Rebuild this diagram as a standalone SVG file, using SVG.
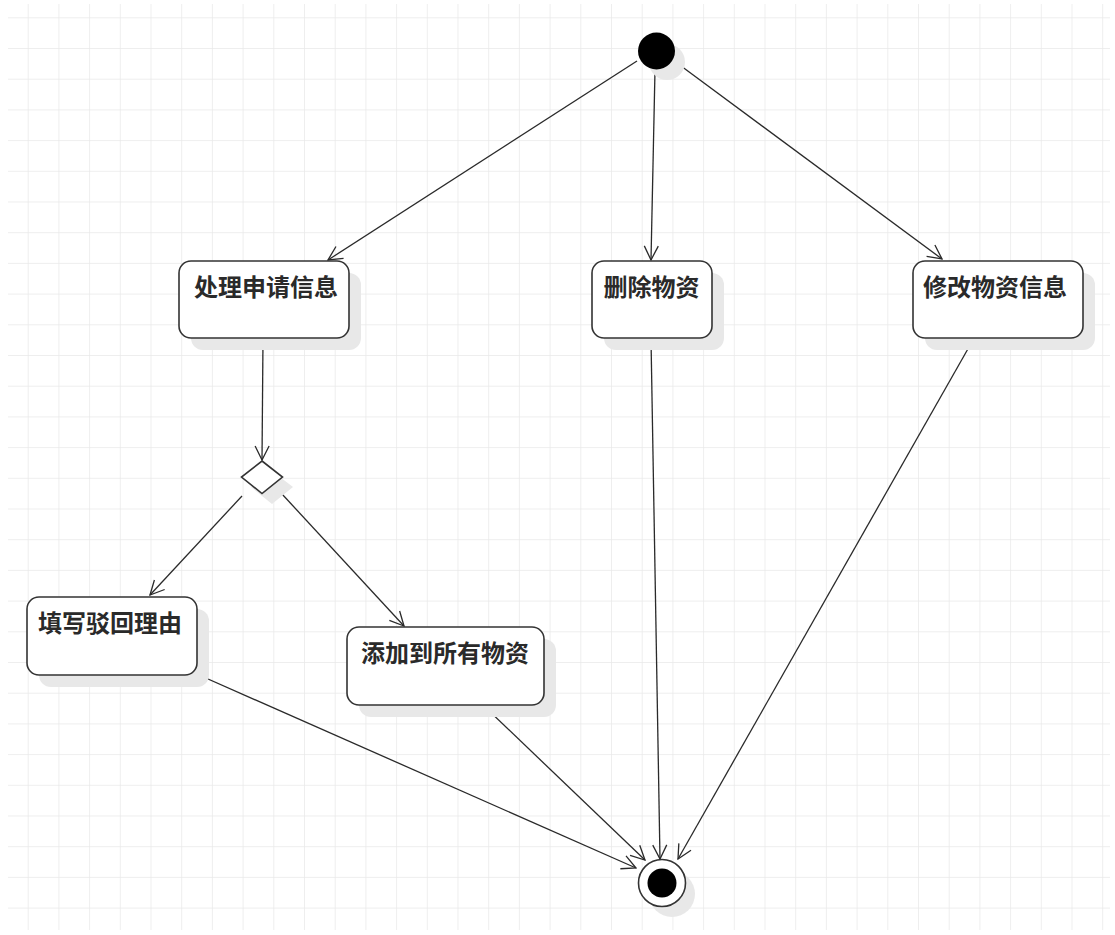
<svg xmlns="http://www.w3.org/2000/svg" width="1115" height="935" viewBox="0 0 1115 935">
<style>
.box{fill:#fff;stroke:#333;stroke-width:1.6}
.sh{fill:#e8e8e8}
.lbl{font-family:"Noto Sans CJK SC","Liberation Sans",sans-serif;font-size:24px;font-weight:bold;fill:#2a2a2a}
.edge{fill:none;stroke:#2a2a2a;stroke-width:1.3}
</style>
<defs>
<pattern id="grid" patternUnits="userSpaceOnUse" x="27.7" y="17.3" width="30.7" height="30.7">
<path d="M0 0H30.7M0 0V30.7" fill="none" stroke="#e9e9e9" stroke-width="1.5"/>
</pattern>
<marker id="arr" viewBox="0 0 16 16" refX="15" refY="8" markerWidth="16" markerHeight="16" markerUnits="userSpaceOnUse" orient="auto">
<path d="M1 1L15 8L1 15" fill="none" stroke="#2a2a2a" stroke-width="1.3"/>
</marker>
</defs>
<rect width="1115" height="935" fill="#fff"/>
<rect x="8" y="4" width="1102" height="926" fill="url(#grid)"/>
<g id="connectors">
<line class="edge" x1="637" y1="61" x2="328" y2="260" marker-end="url(#arr)"/>
<line class="edge" x1="655" y1="70" x2="651" y2="260" marker-end="url(#arr)"/>
<line class="edge" x1="677" y1="63" x2="942" y2="259" marker-end="url(#arr)"/>
<line class="edge" x1="263" y1="339" x2="262" y2="460" marker-end="url(#arr)"/>
<line class="edge" x1="242" y1="496" x2="150" y2="595" marker-end="url(#arr)"/>
<line class="edge" x1="282" y1="494" x2="404" y2="626" marker-end="url(#arr)"/>
<line class="edge" x1="199" y1="675" x2="636" y2="868" marker-end="url(#arr)"/>
<line class="edge" x1="484" y1="706" x2="645" y2="860" marker-end="url(#arr)"/>
<line class="edge" x1="651" y1="339" x2="660" y2="859" marker-end="url(#arr)"/>
<line class="edge" x1="973" y1="340" x2="678" y2="859" marker-end="url(#arr)"/>
</g>
<g id="start">
<circle cx="667" cy="62" r="18" class="sh"/>
<circle cx="656.5" cy="51" r="18.5" fill="#000"/>
</g>
<g id="n1">
<rect class="sh" x="191" y="273" width="170" height="77" rx="12"/>
<rect class="box" x="179" y="261" width="170" height="77" rx="12"/>
<text class="lbl" x="266" y="296" text-anchor="middle">处理申请信息</text>
</g>
<g id="n2">
<rect class="sh" x="604" y="273" width="120" height="77" rx="12"/>
<rect class="box" x="592" y="261" width="120" height="77" rx="12"/>
<text class="lbl" x="651.5" y="296" text-anchor="middle">删除物资</text>
</g>
<g id="n3">
<rect class="sh" x="925" y="273" width="170" height="77" rx="12"/>
<rect class="box" x="913" y="261" width="170" height="77" rx="12"/>
<text class="lbl" x="995" y="296" text-anchor="middle">修改物资信息</text>
</g>
<g id="decision">
<path class="sh" d="M272 471L293 487L272 504L251 487Z"/>
<path class="box" d="M262 461L282.5 477L262 493.5L241.5 477Z"/>
</g>
<g id="n4">
<rect class="sh" x="39" y="609" width="170" height="78" rx="12"/>
<rect class="box" x="27" y="597" width="170" height="78" rx="12"/>
<text class="lbl" x="110" y="632" text-anchor="middle">填写驳回理由</text>
</g>
<g id="n5">
<rect class="sh" x="359" y="639" width="197" height="78" rx="12"/>
<rect class="box" x="347" y="627" width="197" height="78" rx="12"/>
<text class="lbl" x="445" y="662" text-anchor="middle">添加到所有物资</text>
</g>
<g id="end">
<circle cx="672" cy="894" r="23" class="sh"/>
<circle cx="662" cy="883" r="23.5" fill="#fff" stroke="#333" stroke-width="1.6"/>
<circle cx="662" cy="883" r="14.5" fill="#000"/>
</g>
</svg>
